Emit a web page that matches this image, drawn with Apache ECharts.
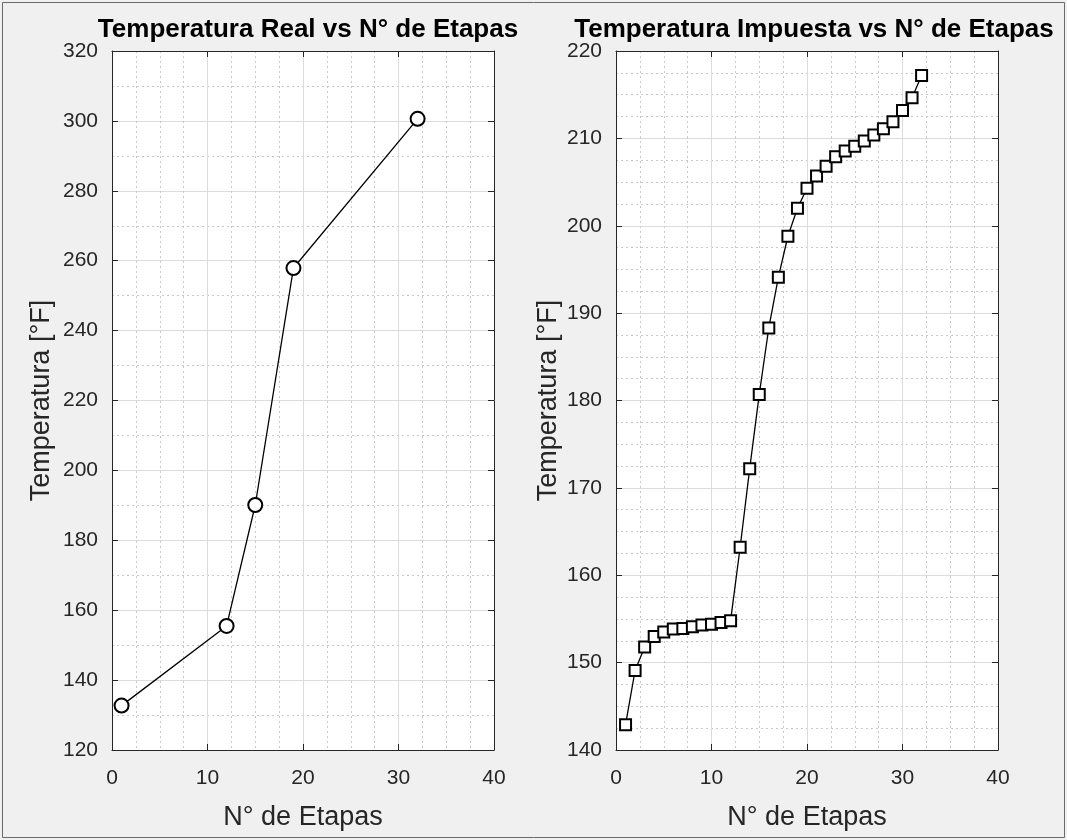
<!DOCTYPE html>
<html>
<head>
<meta charset="utf-8">
<script src="https://cdn.jsdelivr.net/npm/echarts@6/dist/echarts.min.js"></script>
<style>
  html, body { margin: 0; padding: 0; background: #f0f0f0; }
  #chart { width: 1067px; height: 840px; }
</style>
</head>
<body>
<div id="chart"></div>
<script>
// left plot: temperatura real
const etapasReal = [1, 12, 15, 19, 32]
const tempReal = [132.7, 155.5, 190.1, 257.9, 300.6]

// right plot: temperatura impuesta, one point per stage
const etapasImp = [1, 2, 3, 4, 5, 6, 7, 8, 9, 10, 11, 12, 13, 14, 15, 16,
  17, 18, 19, 20, 21, 22, 23, 24, 25, 26, 27, 28, 29, 30, 31, 32]
const tempImp = [142.9, 149.1, 151.8, 153.0, 153.5, 153.85, 153.9, 154.1,
  154.3, 154.4, 154.6, 154.8, 163.2, 172.2, 180.7, 188.3, 194.1, 198.8,
  202.0, 204.3, 205.7, 206.8, 207.9, 208.55, 209.1, 209.7, 210.4, 211.1,
  211.9, 213.2, 214.65, 217.2]

const titles = ['Temperatura Real vs N° de Etapas', 'Temperatura Impuesta vs N° de Etapas']
const xName = 'N° de Etapas'
const yName = 'Temperatura [°F]'

const font = 'Liberation Sans, Arial, Helvetica, sans-serif'
const ink = '#262626'

const chart = echarts.init(document.getElementById('chart'))

const pairs = (xs, ys) => xs.map((x, i) => [x, ys[i]])

// common bits for the box axes
const tickIn = { show: true, inside: true, length: 6, lineStyle: { color: ink } }
const line = { show: true, onZero: false, lineStyle: { color: ink, width: 1 } }
const major = { show: true, lineStyle: { color: '#dcdcdc', width: 1 } }
const minor = { show: true, lineStyle: { color: '#c8c8c8', width: 1, type: [2, 3] } }

const xMain = (gridIndex) => ({
  type: 'value', gridIndex, min: 0, max: 40, interval: 10, position: 'bottom',
  name: xName, nameLocation: 'middle', nameGap: 54,
  nameTextStyle: { fontFamily: font, fontSize: 27, color: ink },
  axisLine: line, axisTick: tickIn,
  axisLabel: { fontFamily: font, fontSize: 21, color: ink, margin: 18 },
  splitLine: major,
  minorTick: { show: false, splitNumber: 4 },
  minorSplitLine: minor,
})
const xTop = (gridIndex) => ({
  type: 'value', gridIndex, min: 0, max: 40, interval: 10, position: 'top',
  axisLine: line, axisTick: tickIn, axisLabel: { show: false }, splitLine: { show: false },
})
const yMain = (gridIndex, min, max, interval, minorSplit, gap) => ({
  type: 'value', gridIndex, min, max, interval, position: 'left',
  name: yName, nameLocation: 'middle', nameGap: gap,
  nameTextStyle: { fontFamily: font, fontSize: 27, color: ink },
  axisLine: line, axisTick: tickIn,
  axisLabel: { fontFamily: font, fontSize: 21, color: ink, margin: 14 },
  splitLine: major,
  minorTick: { show: false, splitNumber: minorSplit },
  minorSplitLine: minor,
})
const yRight = (gridIndex, min, max, interval) => ({
  type: 'value', gridIndex, min, max, interval, position: 'right',
  axisLine: line, axisTick: tickIn, axisLabel: { show: false }, splitLine: { show: false },
})

const titleStyle = { fontFamily: font, fontSize: 26, fontWeight: 'bold', color: '#000' }

const option = {
  backgroundColor: '#f0f0f0',
  animation: false,
  title: [
    { text: titles[0], left: 303, top: 12, textAlign: 'center', textStyle: titleStyle },
    { text: titles[1], left: 809, top: 12, textAlign: 'center', textStyle: titleStyle },
  ],
  grid: [
    { left: 112, right: 573, top: 51, bottom: 90, show: true, backgroundColor: '#fff', borderWidth: 0 },
    { left: 616, right: 69, top: 51, bottom: 90, show: true, backgroundColor: '#fff', borderWidth: 0 },
  ],
  xAxis: [xMain(0), xMain(1), xTop(0), xTop(1)],
  yAxis: [
    yMain(0, 120, 320, 20, 2, 57),
    yMain(1, 140, 220, 10, 4, 54),
    yRight(0, 120, 320, 20),
    yRight(1, 140, 220, 10),
  ],
  series: [
    {
      name: 'Real', type: 'line', xAxisIndex: 0, yAxisIndex: 0,
      data: pairs(etapasReal, tempReal),
      symbol: 'emptyCircle', symbolSize: 14,
      lineStyle: { color: '#000', width: 1.3 },
      itemStyle: { color: '#000', borderWidth: 1.3 },
    },
    {
      name: 'Impuesta', type: 'line', xAxisIndex: 1, yAxisIndex: 1,
      data: pairs(etapasImp, tempImp),
      symbol: 'emptyRect', symbolSize: 11,
      lineStyle: { color: '#000', width: 1.3 },
      itemStyle: { color: '#000', borderWidth: 1.3 },
    },
  ],
  graphic: [
    { type: 'rect', shape: { x: 2.5, y: 2.5, width: 1062, height: 835 },
      style: { fill: 'none', stroke: '#6a6a6a', lineWidth: 1 }, silent: true },
  ],
}

chart.setOption(option)
</script>
</body>
</html>
